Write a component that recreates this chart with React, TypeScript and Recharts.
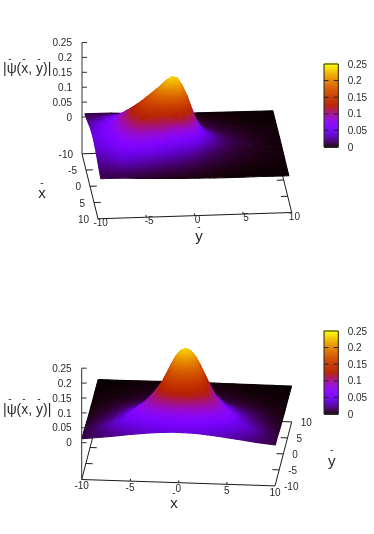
import React from "react";
import { ScatterChart, Scatter, XAxis, YAxis } from "recharts";

// |x| samples (the surface is read as mirror-symmetric in x)
const xHalf = [0, 0.5, 1, 1.5, 2, 2.5, 3, 4, 5, 6, 7, 8, 9, 10];
const yGrid = [-9.7, -9, -8, -7, -6, -5, -4, -3, -2, -1.5, -1, -0.5, 0, 0.5, 1, 1.5, 2, 3, 4, 5, 6, 7, 8, 9, 9.7];
// |psi|: one row per yGrid entry, one column per xHalf entry
const psiRows = [
  [.042, .0419, .0414, .0407, .0397, .0385, .037, .0336, .0297, .0255, .0213, .0173, .0137, .0105],
  [.05, .0498, .0493, .0483, .047, .0454, .0436, .0391, .034, .0288, .0235, .0187, .0144, .0108],
  [.066, .0657, .0649, .0636, .0618, .0595, .0569, .0507, .0437, .0364, .03, .021, .015, .0105],
  [.088, .0876, .0864, .0844, .0818, .0784, .0745, .0655, .0554, .0452, .036, .024, .015, .01],
  [.115, .1143, .1124, .109, .1047, .0992, .0929, .0788, .0637, .045, .032, .022, .0135, .008],
  [.14, .1389, .1357, .1305, .1235, .1152, .1057, .085, .0641, .041, .028, .02, .012, .007],
  [.168, .166, .1599, .1505, .1383, .1238, .1082, .08, .054, .036, .025, .017, .01, .0055],
  [.195, .1917, .1821, .1671, .1482, .1269, .1053, .068, .046, .031, .021, .014, .0085, .0045],
  [.225, .2192, .203, .1784, .1489, .1179, .0889, .056, .038, .027, .018, .012, .007, .0035],
  [.235, .2277, .2073, .1774, .1426, .1076, .0764, .05, .034, .024, .016, .0105, .0065, .003],
  [.23, .2233, .2042, .176, .1428, .1093, .0789, .045, .03, .021, .015, .0095, .006, .0028],
  [.205, .199, .182, .1568, .1273, .0974, .0703, .04, .027, .019, .013, .0085, .0052, .0025],
  [.17, .1654, .1525, .1333, .1103, .0865, .0643, .036, .024, .017, .012, .0075, .0045, .0022],
  [.125, .1219, .1131, .0999, .0838, .0669, .0509, .03, .02, .015, .0105, .0068, .004, .002],
  [.085, .0832, .0779, .07, .0601, .0494, .039, .024, .017, .013, .009, .006, .0035, .0018],
  [.058, .0568, .0535, .0484, .0421, .0352, .0282, .019, .014, .0105, .0075, .005, .003, .0015],
  [.042, .0413, .0392, .036, .0319, .0273, .0227, .016, .012, .0095, .0065, .0043, .0026, .0013],
  [.024, .0237, .0227, .0212, .0192, .0169, .0145, .011, .0085, .0065, .0045, .003, .002, .001],
  [.015, .0149, .0143, .0134, .0124, .011, .0097, .0075, .006, .0045, .0032, .0022, .0014, .0008],
  [.01, .0099, .0096, .0091, .0084, .0076, .0067, .0055, .0045, .003, .0023, .0016, .001, .0006],
  [.007, .007, .0068, .0065, .0061, .0056, .0051, .0042, .0032, .0022, .0016, .0012, .0008, .0005],
  [.0045, .0045, .0044, .0042, .004, .0037, .0034, .0027, .002, .0014, .001, .0007, .0005, .0004],
  [.003, .003, .0029, .0028, .0027, .0025, .0023, .0019, .0014, .001, .0008, .0006, .0004, .0003],
  [.002, .002, .002, .0019, .0018, .0017, .0016, .0013, .001, .0008, .0006, .0004, .0003, .0002],
  [.0015, .0015, .0015, .0014, .0014, .0013, .0012, .001, .0008, .0006, .0005, .0003, .0002, .0002],
];
const xyTicks = [-10, -5, 0, 5, 10];
const zTicks = [0, 0.05, 0.1, 0.15, 0.2, 0.25];
const zTickText = ["0", "0.05", "0.1", "0.15", "0.2", "0.25"];
const psiTitle = "|\u03c8(x, y)|";

const W = 374;
const H = 267;
const FONT = "'Liberation Sans', Arial, sans-serif";
const INK = "#2a2a2a";
const Z_MAX = 0.25;
const Z_FLOOR = -0.1235;

const xGrid = [...xHalf.slice(1).reverse().map((v) => -v), ...xHalf];
const psiAt = (ix: number, iy: number) => psiRows[iy][Math.abs(ix - (xHalf.length - 1))];

type View = {
  id: string;
  o: [number, number];
  xv: [number, number];
  yv: [number, number];
  backToFront: "x" | "y";
};
const view1: View = { id: "p1", o: [82, 117], xv: [0.8, 3.25], yv: [9.685, -0.315], backToFront: "x" };
const view2: View = { id: "p2", o: [81.7, 175.7], xv: [9.665, 0.32], yv: [0.835, -3.2], backToFront: "y" };

const ZPX = 298;
const project = (v: View, x: number, y: number, z: number) => ({
  sx: v.o[0] + (x + 10) * v.xv[0] + (y + 10) * v.yv[0],
  sy: v.o[1] + (x + 10) * v.xv[1] + (y + 10) * v.yv[1] - z * ZPX,
});

const palette = (z: number) => {
  const g = Math.max(0, Math.min(1, z / Z_MAX));
  const r = Math.sqrt(g);
  const gg = g * g * g;
  const b = Math.max(0, Math.sin(2 * Math.PI * g));
  return `rgb(${Math.round(r * 255)},${Math.round(gg * 255)},${Math.round(b * 255)})`;
};

// A planar fit of a cell's four values in screen space gives the axis of its colour ramp.
function shade(pts: any[], z: number[]) {
  const zMean = (z[0] + z[1] + z[2] + z[3]) / 4;
  const C = {
    x: (pts[0].sx + pts[1].sx + pts[2].sx + pts[3].sx) / 4,
    y: (pts[0].sy + pts[1].sy + pts[2].sy + pts[3].sy) / 4,
  };
  const ux = (pts[1].sx + pts[2].sx - pts[0].sx - pts[3].sx) / 2;
  const uy = (pts[1].sy + pts[2].sy - pts[0].sy - pts[3].sy) / 2;
  const vx = (pts[2].sx + pts[3].sx - pts[0].sx - pts[1].sx) / 2;
  const vy = (pts[2].sy + pts[3].sy - pts[0].sy - pts[1].sy) / 2;
  const du = (z[1] + z[2] - z[0] - z[3]) / 2;
  const dv = (z[2] + z[3] - z[0] - z[1]) / 2;
  const det = ux * vy - uy * vx;
  const rMax = Math.max(...pts.map((p) => Math.hypot(p.sx - C.x, p.sy - C.y)));
  if (Math.abs(det) < 2) return { C, d: [rMax, 0], zA: zMean, zB: zMean, zMean };
  const gx = (du * vy - dv * uy) / det;
  const gy = (dv * ux - du * vx) / det;
  const gn = Math.hypot(gx, gy);
  if (gn < 1e-7) return { C, d: [rMax, 0], zA: zMean, zB: zMean, zMean };
  const zSpan = Math.min(gn * rMax, (Math.max(...z) - Math.min(...z)) * 0.8);
  return { C, d: [(gx / gn) * rMax, (gy / gn) * rMax], zA: zMean - zSpan, zB: zMean + zSpan, zMean };
}

function buildCells(v: View) {
  const nx = xGrid.length - 1;
  const ny = yGrid.length - 1;
  const cells: any[] = [];
  const add = (ix: number, iy: number) => {
    const corners = [
      [ix, iy],
      [ix + 1, iy],
      [ix + 1, iy + 1],
      [ix, iy + 1],
    ].map(([i, j]) => ({ x: xGrid[i], y: yGrid[j], z: psiAt(i, j) }));
    const pts = corners.map((c) => project(v, c.x, c.y, c.z));
    const z = corners.map((c) => c.z);
    cells.push({ ...pts[0], pts, s: shade(pts, z), id: `${v.id}-${ix}-${iy}` });
  };
  if (v.backToFront === "x") {
    for (let i = 0; i < nx; i++) for (let j = 0; j < ny; j++) add(i, j);
  } else {
    for (let j = ny - 1; j >= 0; j--) for (let i = 0; i < nx; i++) add(i, j);
  }
  return cells;
}

const CellShape = (p: any) => {
  const { cx, cy, payload } = p;
  const ox = cx - payload.sx;
  const oy = cy - payload.sy;
  const pts = payload.pts.map((q: any) => `${(ox + q.sx).toFixed(2)},${(oy + q.sy).toFixed(2)}`).join(" ");
  const s = payload.s;
  const url = `url(#${payload.id})`;
  return (
    <g>
      <defs>
        <linearGradient
          id={payload.id}
          gradientUnits="userSpaceOnUse"
          x1={ox + s.C.x - s.d[0]}
          y1={oy + s.C.y - s.d[1]}
          x2={ox + s.C.x + s.d[0]}
          y2={oy + s.C.y + s.d[1]}
        >
          <stop offset="0" stopColor={palette(s.zA)} />
          <stop offset="0.5" stopColor={palette(s.zMean)} />
          <stop offset="1" stopColor={palette(s.zB)} />
        </linearGradient>
      </defs>
      <polygon points={pts} fill={url} stroke={url} strokeWidth={1.1} strokeLinejoin="round" />
    </g>
  );
};

const Blank = () => <g />;

const TextShape = (p: any) => {
  const { cx, cy, payload } = p;
  return (
    <text
      x={cx}
      y={cy}
      dy=".36em"
      textAnchor={payload.anchor || "middle"}
      fontFamily={FONT}
      fontSize={payload.size || 10}
      fill={INK}
    >
      {payload.text}
    </text>
  );
};

const CB = { left: 324, right: 338.3, top: 64, bottom: 147 };
const cbY = (z: number) => CB.bottom - (z / Z_MAX) * (CB.bottom - CB.top);
const cbCells = Array.from({ length: 84 }, (_, i) => (i / 83) * Z_MAX).map((z) => ({ sx: CB.left, sy: cbY(z), z }));
const CbCell = (p: any) => {
  const { cx, cy, payload } = p;
  return <rect x={cx} y={cy - 0.8} width={CB.right - CB.left} height={1.6} fill={palette(payload.z)} />;
};

function Panel({ v, top, labels }: { v: View; top: number; labels: any }) {
  const cells = buildCells(v);
  const P = (x: number, y: number, z: number) => project(v, x, y, z);
  const segs: any[][] = [];
  const c = [
    P(-10, -10, Z_FLOOR),
    P(10, -10, Z_FLOOR),
    P(10, 10, Z_FLOOR),
    P(-10, 10, Z_FLOOR),
  ];
  segs.push([c[0], c[1], c[2], c[3], c[0]]);
  const T = 0.7;
  xyTicks.slice(1, -1).forEach((t) => {
    segs.push([P(t, -10, Z_FLOOR), P(t, -10 + T, Z_FLOOR)]);
    segs.push([P(t, 10, Z_FLOOR), P(t, 10 - T, Z_FLOOR)]);
    segs.push([P(-10, t, Z_FLOOR), P(-10 + T, t, Z_FLOOR)]);
    segs.push([P(10, t, Z_FLOOR), P(10 - T, t, Z_FLOOR)]);
  });
  const axisSegs: any[][] = [[P(-10, -10, Z_FLOOR), P(-10, -10, Z_MAX)]];
  zTicks.forEach((z) => {
    const a = P(-10, -10, z);
    axisSegs.push([a, { sx: a.sx + 5, sy: a.sy }]);
  });
  const cbSegs: any[][] = [
    [
      { sx: CB.left, sy: CB.top },
      { sx: CB.right, sy: CB.top },
      { sx: CB.right, sy: CB.bottom },
      { sx: CB.left, sy: CB.bottom },
      { sx: CB.left, sy: CB.top },
    ],
  ];
  zTicks.slice(1, -1).forEach((z) => {
    cbSegs.push([{ sx: CB.left, sy: cbY(z) }, { sx: CB.left + 4.5, sy: cbY(z) }]);
    cbSegs.push([{ sx: CB.right - 4.5, sy: cbY(z) }, { sx: CB.right, sy: cbY(z) }]);
  });
  const zLabels = zTicks.map((z, i) => {
    const a = P(-10, -10, z);
    return { sx: a.sx - 10, sy: a.sy, text: zTickText[i], anchor: "end" };
  });
  const cbLabels = zTicks.map((z, i) => ({ sx: 347.7, sy: cbY(z), text: zTickText[i], anchor: "start" }));
  const all = [...zLabels, ...cbLabels, ...labels(P)];
  const line = (k: string, d: any[], stroke: string) => (
    <Scatter
      key={k}
      data={d}
      line={{ stroke, strokeWidth: 1 }}
      shape={Blank}
      isAnimationActive={false}
      legendType="none"
    />
  );
  return (
    <div style={{ position: "absolute", left: 0, top, width: W, height: H }}>
      <ScatterChart width={W} height={H} margin={{ top: 0, right: 0, bottom: 0, left: 0 }}>
        <XAxis type="number" dataKey="sx" domain={[0, W]} hide allowDataOverflow />
        <YAxis type="number" dataKey="sy" domain={[0, H]} reversed hide allowDataOverflow />
        {segs.map((d, i) => line(`b${i}`, d, "#1a1a1a"))}
        <Scatter data={cells} shape={CellShape} isAnimationActive={false} legendType="none" />
        {axisSegs.map((d, i) => line(`a${i}`, d, "#333333"))}
        <Scatter data={cbCells} shape={CbCell} isAnimationActive={false} legendType="none" />
        {cbSegs.map((d, i) => line(`c${i}`, d, "#222222"))}
        <Scatter data={all} shape={TextShape} isAnimationActive={false} legendType="none" />
      </ScatterChart>
    </div>
  );
}

const titleBars = (y: number, barY: number) => [
  { sx: 3, sy: y, text: psiTitle, anchor: "start", size: 14 },
  { sx: 10, sy: barY, text: "-" },
  { sx: 24, sy: barY, text: "-" },
  { sx: 39, sy: barY, text: "-" },
];

const labels1 = (P: any) => [
  ...xyTicks.map((t) => {
    const a = P(t, -10, Z_FLOOR);
    return { sx: a.sx - 9, sy: a.sy + 0.5, text: String(t), anchor: "end" };
  }),
  ...xyTicks.map((t) => {
    const a = P(10, t, Z_FLOOR);
    return { sx: a.sx + 2.7, sy: a.sy + 3.6, text: String(t) };
  }),
  ...titleBars(68, 58),
  { sx: 42, sy: 193, text: "x", size: 15 },
  { sx: 42, sy: 182, text: "-" },
  { sx: 199, sy: 236, text: "y", size: 15 },
  { sx: 199, sy: 226, text: "-" },
];

const labels2 = (P: any) => [
  ...xyTicks.map((t) => {
    const a = P(t, -10, Z_FLOOR);
    return { sx: a.sx, sy: a.sy + 6, text: String(t) };
  }),
  ...xyTicks.map((t) => {
    const a = P(10, t, Z_FLOOR);
    return { sx: a.sx + 9, sy: a.sy, text: String(t), anchor: "start" };
  }),
  ...titleBars(142, 131),
  { sx: 174, sy: 236, text: "x", size: 15 },
  { sx: 174, sy: 225.7, text: "-" },
  { sx: 331.7, sy: 193.5, text: "y", size: 15 },
  { sx: 331.7, sy: 182, text: "-" },
];

export default function App() {
  return (
    <div style={{ position: "absolute", left: 0, top: 0, width: W, height: 534, filter: "blur(0.35px)" }}>
      <Panel v={view1} top={0} labels={labels1} />
      <Panel v={view2} top={H} labels={labels2} />
    </div>
  );
}
